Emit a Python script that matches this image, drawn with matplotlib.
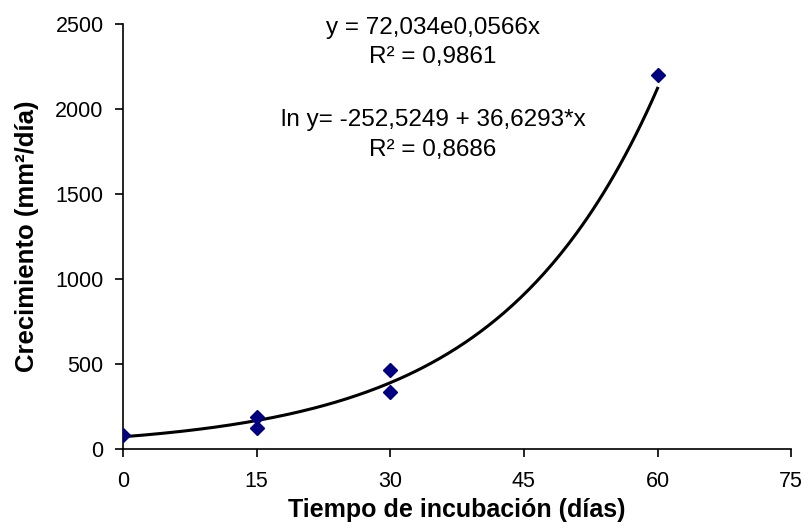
import numpy as np
import matplotlib
matplotlib.use('Agg')
import matplotlib.pyplot as plt

plt.rcParams['font.family'] = ['Liberation Sans', 'DejaVu Sans']

# Data
dias = [0, 15, 15, 30, 30, 60]
crecimiento = [82, 186, 122, 465, 335, 2200]

x_ticks = [0, 15, 30, 45, 60, 75]
y_ticks = [0, 500, 1000, 1500, 2000, 2500]

eq_lines = ["y = 72,034e0,0566x", "R² = 0,9861",
            "ln y= -252,5249 + 36,6293*x", "R² = 0,8686"]
eq_y = [2476, 2306, 1935, 1759]

fig = plt.figure(figsize=(8.04, 5.30), dpi=100)
ax = fig.add_axes([0.153, 0.153, 0.831, 0.802])

# Exponential trendline fitted on the data (as Excel does)
b, ln_a = np.polyfit(dias, np.log(crecimiento), 1)
xs = np.linspace(0, 60, 200)
ax.plot(xs, np.exp(ln_a) * np.exp(b * xs), color='black', lw=2.2, zorder=2)

ax.plot(dias, crecimiento, linestyle='none', marker='D', markersize=7,
        color='#000080', zorder=3)

ax.set_xlim(0, 75)
ax.set_ylim(0, 2500)
ax.set_xticks(x_ticks)
ax.set_yticks(y_ticks)
ax.tick_params(axis='both', direction='out', length=6, width=1.2, labelsize=15.5)
ax.tick_params(axis='x', pad=10)
ax.tick_params(axis='y', pad=8)
for s in ['top', 'right']:
    ax.spines[s].set_visible(False)
for s in ['left', 'bottom']:
    ax.spines[s].set_linewidth(1.2)

ax.set_xlabel('Tiempo de incubación (días)', fontsize=18, fontweight='bold', labelpad=4)
ax.set_ylabel('Crecimiento (mm²/día)', fontsize=18.5, fontweight='bold', labelpad=12)

for line, y in zip(eq_lines, eq_y):
    ax.text(34.8, y, line, ha='center', va='center', fontsize=17.5)

fig.savefig('out.png', dpi=100)
